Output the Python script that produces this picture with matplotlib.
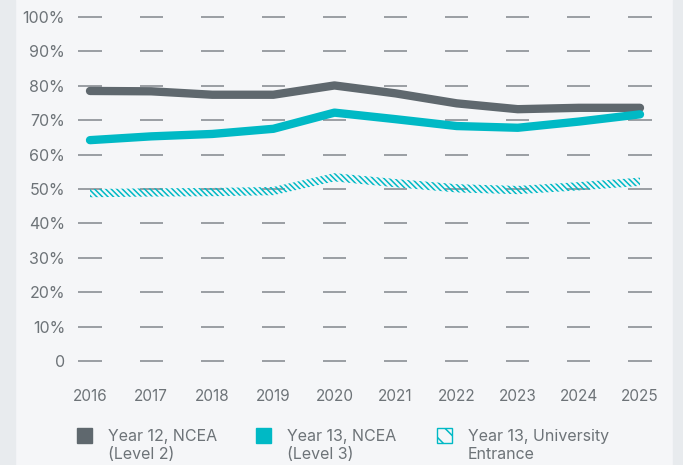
import matplotlib
matplotlib.use('Agg')
import matplotlib.pyplot as plt
from matplotlib.patches import Rectangle
import numpy as np

plt.rcParams['font.family'] = ['Inter', 'DejaVu Sans']
plt.rcParams['hatch.linewidth'] = 1.1

years = [2016, 2017, 2018, 2019, 2020, 2021, 2022, 2023, 2024, 2025]
year12_ncea = [78.5, 78.4, 77.4, 77.4, 80.1, 77.8, 74.9, 73.2, 73.6, 73.6]
year13_ncea = [64.2, 65.3, 66.0, 67.5, 72.2, 70.3, 68.3, 67.8, 69.6, 71.7]
year13_ue = [48.8, 49.0, 49.1, 49.4, 53.4, 51.7, 50.2, 49.7, 50.8, 52.1]
y_ticks = [0, 10, 20, 30, 40, 50, 60, 70, 80, 90, 100]
y_labels = ['0', '10%', '20%', '30%', '40%', '50%', '60%', '70%', '80%', '90%', '100%']
legend_labels = ['Year 12, NCEA\n(Level 2)', 'Year 13, NCEA\n(Level 3)', 'Year 13, University\nEntrance']

bg = '#f5f6f8'
gray = '#5f686e'
teal = '#00b9c5'
text_col = '#6d7378'
grid_col = '#9a9ea3'

fig = plt.figure(figsize=(6.83, 4.65), dpi=100, facecolor=bg)
# darker side strips
fig.add_artist(Rectangle((0, 0), 15 / 683, 1, transform=fig.transFigure, color='#e8ebee', zorder=0))
fig.add_artist(Rectangle((673 / 683, 0), 10 / 683, 1, transform=fig.transFigure, color='#e8ebee', zorder=0))

ax = fig.add_axes([70 / 683, (465 - 361) / 465, 590 / 683, 344 / 465])
ax.set_facecolor('none')
ax.set_xlim(2016 - 20 / 61.1, 2025 + 20 / 61.1)
ax.set_ylim(0, 100)

# short dashes as grid, one per year
for yv in y_ticks:
    ax.hlines([yv] * len(years), np.array(years) - 0.19, np.array(years) + 0.19,
              color=grid_col, lw=1.4, zorder=1, clip_on=False)

ax.plot(years, year12_ncea, color=gray, lw=6, solid_capstyle='round', solid_joinstyle='round', zorder=3)
ax.plot(years, year13_ncea, color=teal, lw=6, solid_capstyle='round', solid_joinstyle='round', zorder=3)
ue = np.array(year13_ue)
ax.fill_between(years, ue - 1.2, ue + 1.2, facecolor='none', edgecolor=teal,
                hatch='\\\\\\\\\\\\', linewidth=0, zorder=2)

ax.set_yticks(y_ticks)
ax.set_yticklabels(y_labels)
ax.set_xticks(years)
ax.set_xticklabels([str(y) for y in years])
ax.tick_params(axis='y', length=0, pad=3.6, labelsize=11.5, labelcolor=text_col)
ax.tick_params(axis='x', length=0, pad=20, labelsize=11, labelcolor=text_col)
for s in ax.spines.values():
    s.set_visible(False)

# legend drawn by hand
leg_x = [77, 256, 437]
handles = [dict(facecolor=gray, edgecolor=gray, hatch=None),
           dict(facecolor=teal, edgecolor=teal, hatch=None),
           dict(facecolor='none', edgecolor=teal, hatch='\\\\')]
for lx, lab, h in zip(leg_x, legend_labels, handles):
    fig.add_artist(Rectangle((lx / 683, (465 - 443) / 465), 15 / 683, 15 / 465,
                             transform=fig.transFigure, lw=1, **h))
    fig.text((lx + 31) / 683, (465 - 429) / 465, lab, ha='left', va='top',
             fontsize=11.5, color=text_col, linespacing=1.25)

fig.savefig('out.png', dpi=100, facecolor=bg)
